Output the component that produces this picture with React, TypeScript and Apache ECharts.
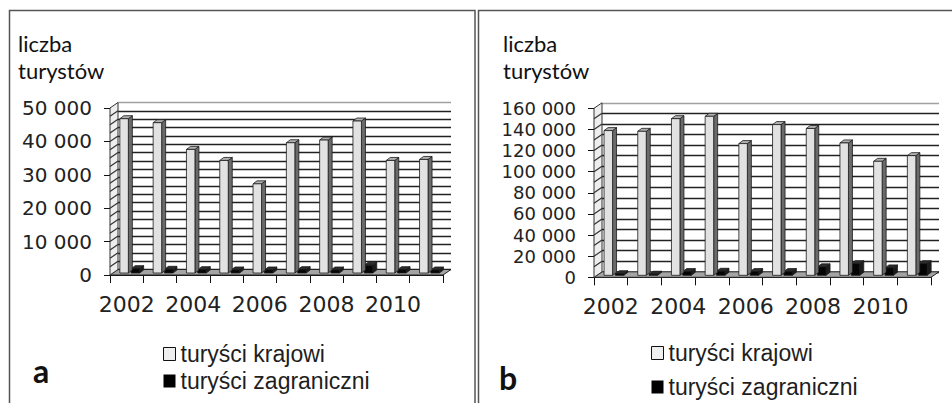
import { useEffect, useRef } from 'react';
import * as echarts from 'echarts';

// ---- data ----
const years = ['2002', '2003', '2004', '2005', '2006', '2007', '2008', '2009', '2010', '2011'];
const domesticA = [46200, 45000, 37000, 33700, 26700, 39000, 39800, 45500, 33700, 34000];
const foreignA = [1300, 1100, 1000, 900, 900, 1000, 900, 2300, 1000, 900];
const domesticB = [137000, 136300, 148300, 150500, 124700, 142700, 139000, 125300, 107900, 113300];
const foreignB = [1500, 1000, 3500, 3800, 3500, 3500, 8000, 11000, 7000, 11000];
const seriesNames = ['turyści krajowi', 'turyści zagraniczni'];
const yTitle = ['liczba', 'turystów'];
const panelLabels = ['a', 'b'];

// ---- geometry / style ----
const DX = 8;
const DY = -5.5;
const BD = 4;
const BDY = -3;

function fmt(v: number) {
  return v === 0 ? '0' : String(v).replace(/\B(?=(\d{3})+(?!\d))/g, ' ');
}

function barRenderer(kind: 'dom' | 'for') {
  return (_params: any, api: any) => {
    const i = api.value(0);
    const v = api.value(1);
    const p = api.coord([i, v]);
    const b = api.coord([i, 0]);
    const c = p[0];
    const w = 8.5;
    const x0 = kind === 'dom' ? c - 6.8 : c + 4.5;
    const x1 = x0 + w;
    const yb = b[1] - 2;
    const yt = p[1] - 2;
    const face = kind === 'dom' ? '#e2e2e2' : '#050505';
    const side = kind === 'dom' ? '#6a6a6a' : '#1c1c1c';
    const topc = kind === 'dom' ? '#b0b0b0' : '#2c2c2c';
    const stroke = '#1a1a1a';
    return {
      type: 'group',
      children: [
        { type: 'polygon', shape: { points: [[x1, yb], [x1 + BD, yb + BDY], [x1 + BD, yt + BDY], [x1, yt]] }, style: { fill: side, stroke, lineWidth: 0.8 } },
        { type: 'polygon', shape: { points: [[x0, yt], [x1, yt], [x1 + BD, yt + BDY], [x0 + BD, yt + BDY]] }, style: { fill: topc, stroke, lineWidth: 0.8 } },
        { type: 'rect', shape: { x: x0, y: yt, width: w, height: yb - yt }, style: { fill: face, stroke, lineWidth: 0.8 } },
      ],
    };
  };
}

function frameRenderer(max: number, minor: number, n: number) {
  return (_params: any, api: any) => {
    const bw = api.size([1, 0])[0];
    const l = api.coord([0, 0]);
    const r = api.coord([n - 1, 0]);
    const xl = l[0] - bw / 2;
    const xr = r[0] + bw / 2;
    const y0 = l[1];
    const yt = api.coord([0, max])[1];
    const children: any[] = [];
    children.push({ type: 'polygon', shape: { points: [[xl, y0], [xr, y0], [xr + DX, y0 + DY], [xl + DX, y0 + DY]] }, style: { fill: '#a4a4a4', stroke: '#222', lineWidth: 1 } });
    children.push({ type: 'polygon', shape: { points: [[xl, y0], [xl + DX, y0 + DY], [xl + DX, yt + DY], [xl, yt]] }, style: { fill: '#eeeeee', stroke: '#333', lineWidth: 1 } });
    for (let v = minor; v < max; v += minor) {
      const y = api.coord([0, v])[1];
      children.push({ type: 'line', shape: { x1: xl, y1: y, x2: xl + DX, y2: y + DY }, style: { stroke: '#333', lineWidth: 1.2 } });
    }
    return { type: 'group', children };
  };
}

function gridColors(max: number, minor: number) {
  const count = Math.round(max / minor) + 1;
  return Array.from({ length: count }, (_, i) => (i === count - 1 ? '#a0a0a0' : '#222222'));
}

const labelFont = 'DejaVu Sans';

function panel(idx: number, front: { left: number; top: number; width: number; height: number }, max: number, major: number, minor: number, ySize: number) {
  const g = idx * 2;
  const grids = [
    { ...front },
    { left: front.left + DX, top: front.top + DY, width: front.width, height: front.height },
  ];
  const xAxes = [
    {
      gridIndex: g,
      type: 'category',
      data: years,
      boundaryGap: true,
      axisLine: { show: true, lineStyle: { color: '#111', width: 1 } },
      axisTick: { show: true, interval: 0, length: 8, lineStyle: { color: '#111', width: 1 } },
      axisLabel: { interval: 1, fontFamily: labelFont, fontSize: 22, color: '#222', margin: 18 },
      splitLine: { show: false },
    },
    { gridIndex: g + 1, type: 'value', show: false, min: 0, max: 1 },
  ];
  const yAxes = [
    {
      gridIndex: g,
      type: 'value',
      min: 0,
      max,
      interval: major,
      axisLine: { show: true, lineStyle: { color: '#111', width: 1 } },
      axisTick: { show: true, length: 6, lineStyle: { color: '#111' } },
      splitLine: { show: false },
      axisLabel: { formatter: fmt, fontFamily: labelFont, fontSize: ySize, lineHeight: ySize, color: '#222', margin: 18 },
    },
    {
      gridIndex: g + 1,
      type: 'value',
      min: 0,
      max,
      interval: minor,
      axisLabel: { show: false },
      axisLine: { show: false },
      axisTick: { show: false },
      splitLine: { show: true, lineStyle: { color: gridColors(max, minor), width: 1.3 } },
    },
  ];
  return { grids, xAxes, yAxes };
}

export default function App() {
  const ref = useRef<HTMLDivElement>(null);
  useEffect(() => {
    if (!ref.current) return;
    const chart = echarts.init(ref.current, undefined, { renderer: 'svg' });
    const pa = panel(0, { left: 110, top: 108, width: 333, height: 167 }, 50000, 10000, 2500, 20);
    const pb = panel(1, { left: 594, top: 108.3, width: 337, height: 169 }, 160000, 20000, 10000, 18);

    const mk = (xi: number, max: number, minor: number, dom: number[], forn: number[]) => [
      { type: 'custom', xAxisIndex: xi, yAxisIndex: xi, renderItem: frameRenderer(max, minor, years.length), data: [[0, 0]], silent: true, z: 1, clip: false },
      { type: 'custom', name: seriesNames[1], xAxisIndex: xi, yAxisIndex: xi, renderItem: barRenderer('for'), data: forn.map((v, i) => [i, v]), z: 2, clip: false },
      { type: 'custom', name: seriesNames[0], xAxisIndex: xi, yAxisIndex: xi, renderItem: barRenderer('dom'), data: dom.map((v, i) => [i, v]), z: 3, clip: false },
    ];

    const legendData = [
      { name: seriesNames[0], icon: 'rect', itemStyle: { color: '#efefef', borderColor: '#111', borderWidth: 1 } },
      { name: seriesNames[1], icon: 'rect', itemStyle: { color: '#000', borderWidth: 0 } },
    ];
    const legendText = { fontFamily: 'Liberation Sans', fontSize: 23, color: '#1e1e1e', lineHeight: 23 };

    const titleTexts = (x: number) => [
      { type: 'text', x, y: 43.5, style: { text: yTitle[0], fontFamily: 'Lato', fontSize: 22, fill: '#111', align: 'left', verticalAlign: 'middle' } },
      { type: 'text', x, y: 70.5, style: { text: yTitle[1], fontFamily: 'Lato', fontSize: 22, fill: '#111', align: 'left', verticalAlign: 'middle' } },
    ];

    chart.setOption({
      animation: false,
      backgroundColor: '#ffffff',
      grid: [...pa.grids, ...pb.grids],
      xAxis: [...pa.xAxes, ...pb.xAxes],
      yAxis: [...pa.yAxes, ...pb.yAxes],
      legend: [
        { left: 163, top: 342.5, orient: 'vertical', padding: 0, itemWidth: 12, itemHeight: 13, itemGap: 4, textStyle: legendText, data: legendData, selectedMode: false },
        { left: 651, top: 341.5, orient: 'vertical', padding: 0, itemWidth: 12, itemHeight: 13, itemGap: 11, textStyle: legendText, data: legendData, selectedMode: false },
      ],
      graphic: [
        { type: 'rect', silent: true, shape: { x: 9.5, y: 10.5, width: 465.5, height: 420 }, style: { fill: 'none', stroke: '#555', lineWidth: 1.5 } },
        { type: 'rect', silent: true, shape: { x: 478.5, y: 10.5, width: 500, height: 420 }, style: { fill: 'none', stroke: '#555', lineWidth: 1.5 } },
        ...titleTexts(18),
        ...titleTexts(503),
        { type: 'text', x: 33, y: 370, style: { text: panelLabels[0], fontFamily: 'Lato', fontWeight: 'bold', fontSize: 32, fill: '#111', align: 'left', verticalAlign: 'middle' } },
        { type: 'text', x: 499, y: 377, style: { text: panelLabels[1], fontFamily: 'Lato', fontWeight: 'bold', fontSize: 32, fill: '#111', align: 'left', verticalAlign: 'middle' } },
      ],
      series: [...mk(0, 50000, 2500, domesticA, foreignA), ...mk(2, 160000, 10000, domesticB, foreignB)],
    });
    return () => chart.dispose();
  }, []);
  return <div ref={ref} style={{ position: 'absolute', left: 0, top: 0, width: 952, height: 403 }} />;
}
